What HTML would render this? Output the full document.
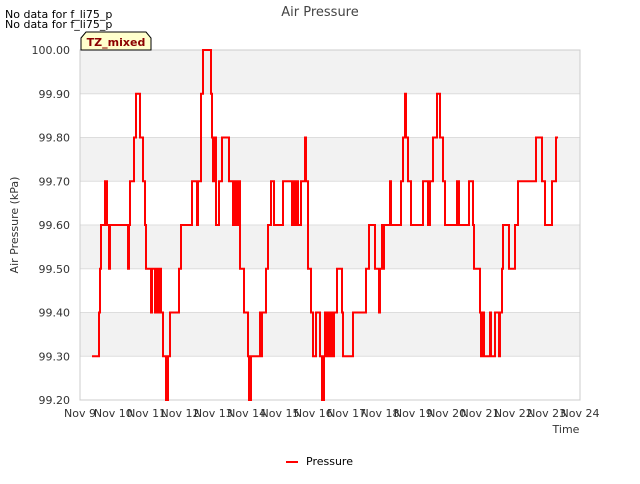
<!DOCTYPE html>
<html><head><meta charset="utf-8"><style>
body{margin:0;background:#fff;font-family:"DejaVu Sans","Liberation Sans",sans-serif}
svg text{font-family:"DejaVu Sans","Liberation Sans",sans-serif}
</style></head><body>
<svg id="c" width="640" height="480" xmlns="http://www.w3.org/2000/svg">
<rect width="640" height="480" fill="#fff"/>
<text x="320" y="16" text-anchor="middle" font-size="13" fill="#444">Air Pressure</text>
<text x="5" y="18" font-size="11" fill="#000">No data for f_li75_p</text>
<text x="5" y="28" font-size="11" fill="#000">No data for f_li75_p</text>
<g id="plot"></g>
<g>
<path d="M81,38 L86,32 L146,32 L151,38 L151,50 L81,50 Z" fill="#ffffcc" stroke="#000" stroke-width="1"/>
<text x="116" y="46" text-anchor="middle" font-size="11" font-weight="bold" fill="#8b0000">TZ_mixed</text>
</g>
<text x="566" y="433" text-anchor="middle" font-size="11" fill="#333">Time</text>
<text transform="translate(18,225) rotate(-90)" text-anchor="middle" font-size="11" fill="#333">Air Pressure (kPa)</text>
<g>
<line x1="286" y1="462" x2="298" y2="462" stroke="#f00" stroke-width="2"/>
<text x="306" y="465" font-size="11" fill="#000">Pressure</text>
</g>
</svg>
<script>
const times=[9.36,9.57,9.60,9.63,9.69,9.75,9.81,9.87,9.90,10.44,10.47,10.50,10.62,10.68,10.80,10.89,10.95,10.98,11.13,11.16,11.25,11.31,11.34,11.40,11.43,11.49,11.58,11.64,11.70,11.97,12.03,12.36,12.51,12.54,12.63,12.69,12.93,12.96,12.99,13.02,13.08,13.17,13.26,13.47,13.59,13.65,13.68,13.74,13.80,13.92,14.04,14.07,14.13,14.40,14.43,14.46,14.58,14.64,14.73,14.82,15.09,15.36,15.42,15.48,15.51,15.54,15.63,15.75,15.78,15.84,15.93,15.99,16.08,16.20,16.26,16.32,16.35,16.41,16.44,16.50,16.56,16.59,16.62,16.71,16.86,16.89,17.19,17.58,17.67,17.85,17.97,18.00,18.06,18.09,18.12,18.30,18.33,18.63,18.69,18.75,18.78,18.84,18.93,19.29,19.44,19.50,19.59,19.71,19.80,19.89,19.95,20.31,20.37,20.67,20.79,20.82,21.00,21.03,21.09,21.12,21.30,21.33,21.45,21.57,21.60,21.66,21.69,21.87,22.05,22.14,22.68,22.86,22.95,23.16,23.28,23.34];
const pressure=[99.3,99.4,99.5,99.6,99.6,99.7,99.6,99.5,99.6,99.5,99.6,99.7,99.8,99.9,99.8,99.7,99.6,99.5,99.4,99.5,99.4,99.5,99.4,99.5,99.4,99.3,99.2,99.3,99.4,99.5,99.6,99.7,99.6,99.7,99.9,100.0,99.9,99.8,99.7,99.8,99.6,99.7,99.8,99.7,99.6,99.7,99.6,99.7,99.5,99.4,99.3,99.2,99.3,99.4,99.3,99.4,99.5,99.6,99.7,99.6,99.7,99.6,99.7,99.6,99.7,99.6,99.7,99.8,99.7,99.5,99.4,99.3,99.4,99.3,99.2,99.3,99.4,99.3,99.4,99.3,99.4,99.3,99.4,99.5,99.4,99.3,99.4,99.5,99.6,99.5,99.4,99.5,99.6,99.5,99.6,99.7,99.6,99.7,99.8,99.9,99.8,99.7,99.6,99.7,99.6,99.7,99.8,99.9,99.8,99.7,99.6,99.7,99.6,99.7,99.6,99.5,99.4,99.3,99.4,99.3,99.4,99.3,99.4,99.3,99.4,99.5,99.6,99.5,99.6,99.7,99.8,99.7,99.6,99.7,99.8,99.8];
const xTicks=["Nov 9","Nov 10","Nov 11","Nov 12","Nov 13","Nov 14","Nov 15","Nov 16","Nov 17","Nov 18","Nov 19","Nov 20","Nov 21","Nov 22","Nov 23","Nov 24"];
const yTicks=[99.2,99.3,99.4,99.5,99.6,99.7,99.8,99.9,100.0];
const X0=80,X1=580,Y0=400,Y1=50,D0=9,D1=24,V0=99.2,V1=100.0;
const xs=d=>X0+(d-D0)/(D1-D0)*(X1-X0);
const ys=v=>Y0-(v-V0)/(V1-V0)*(Y0-Y1);
const NS="http://www.w3.org/2000/svg";
const g=document.getElementById('plot');
function mk(t,a){const e=document.createElementNS(NS,t);for(const k in a)e.setAttribute(k,a[k]);g.appendChild(e);return e;}
for(let i=0;i<yTicks.length-1;i++){
 if(i%2==1){const r=mk('rect',{x:X0,y:ys(yTicks[i+1]),width:X1-X0,height:ys(yTicks[i])-ys(yTicks[i+1]),fill:'#f2f2f2'});
 
 }
}
yTicks.forEach(v=>{
 const l=mk('line',{x1:X0,x2:X1,y1:ys(v),y2:ys(v),stroke:'#ddd','stroke-width':1});
 
 
 const t=mk('text',{x:X0-10,y:ys(v)+4,'text-anchor':'end','font-size':11,fill:'#333'});
 t.textContent=v.toFixed(2);
 
 
});
const fr=mk('rect',{x:X0,y:Y1,width:X1-X0,height:Y0-Y1,fill:'none',stroke:'#ccc'});


xTicks.forEach((s,i)=>{
 const x=xs(D0+i);
 const t=mk('text',{x:x,y:Y0+17,'text-anchor':'middle','font-size':11,fill:'#333'});
 t.textContent=s;
 
 
});
let d='';
for(let i=0;i<times.length;i++){
 const x=xs(times[i]),y=ys(pressure[i]);
 if(i==0)d+='M'+x+','+y;else d+=' H'+x+' V'+y;
}
const p=mk('path',{d:d,fill:'none',stroke:'#f00','stroke-width':2});


</script>
</body></html>
